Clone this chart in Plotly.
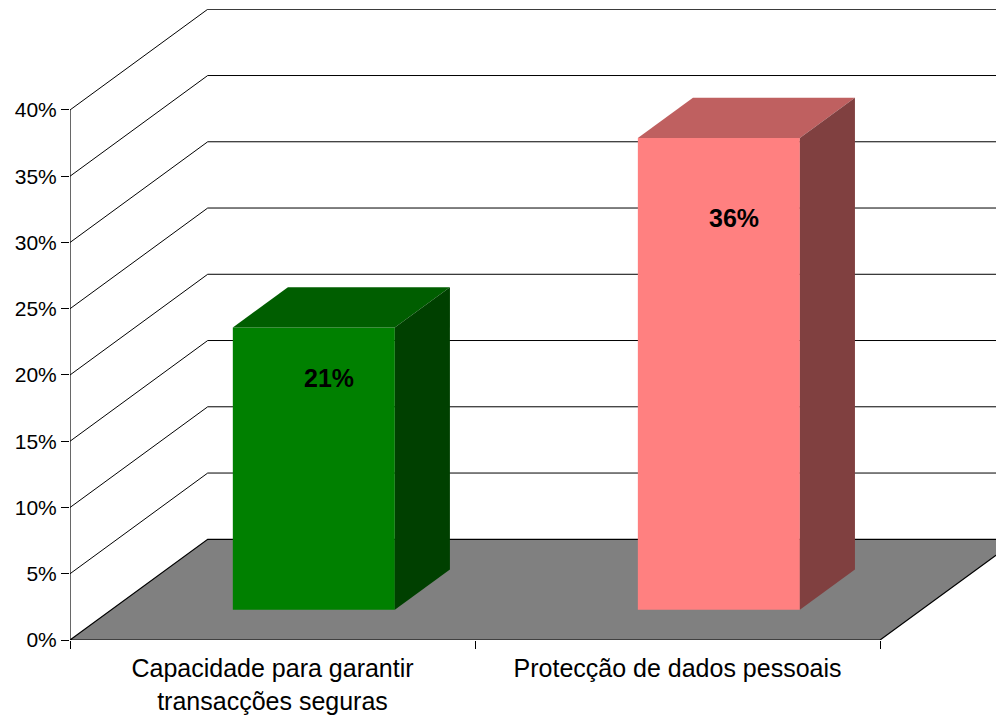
import plotly.graph_objs as go

# chart data
categories = ['Capacidade para garantir<br>transacções seguras', 'Protecção de dados pessoais']
values = [21.3, 35.6]
front_colors = ['#008000', '#FF8080']
top_colors = ['#005E00', '#BF6060']
side_colors = ['#004000', '#804040']
y_ticks = [0, 5, 10, 15, 20, 25, 30, 35, 40]

# oblique projection of the depth axis (x in category units, y in percent)
DX = 0.34
DY = 7.6
X_MAX = len(categories)
BAR_HALF = 0.2
D_FRONT, D_BACK = 0.3, 0.7


def proj(x, y, d):
    return x + d * DX, y + d * DY


def poly(points, color, line_color=None, width=0):
    xs = [proj(*p)[0] for p in points] + [proj(*points[0])[0]]
    ys = [proj(*p)[1] for p in points] + [proj(*points[0])[1]]
    return go.Scatter(x=xs, y=ys, mode='lines', fill='toself', fillcolor=color,
                      line=dict(color=line_color or color, width=width),
                      hoverinfo='skip', showlegend=False)


data = []

# walls: gridlines run along the left wall and across the back wall
for t in y_ticks[1:]:
    pts = [proj(0, t, 0), proj(0, t, 1), proj(X_MAX + 1, t, 1)]
    data.append(go.Scatter(x=[p[0] for p in pts], y=[p[1] for p in pts], mode='lines',
                           line=dict(color='black', width=1), hoverinfo='skip', showlegend=False))

# floor
data.append(poly([(0, 0, 0), (X_MAX, 0, 0), (X_MAX, 0, 1), (0, 0, 1)], '#808080', 'black', 1.2))

# vertical axis line
data.append(go.Scatter(x=[0, 0], y=[0, y_ticks[-1]], mode='lines',
                       line=dict(color='black', width=1.2), hoverinfo='skip', showlegend=False))

# 3d bars
annotations = []
for i, v in enumerate(values):
    c = i + 0.5
    x0, x1 = c - BAR_HALF, c + BAR_HALF
    data.append(poly([(x0, 0, D_FRONT), (x1, 0, D_FRONT), (x1, v, D_FRONT), (x0, v, D_FRONT)], front_colors[i]))
    data.append(poly([(x0, v, D_FRONT), (x1, v, D_FRONT), (x1, v, D_BACK), (x0, v, D_BACK)], top_colors[i]))
    data.append(poly([(x1, 0, D_FRONT), (x1, 0, D_BACK), (x1, v, D_BACK), (x1, v, D_FRONT)], side_colors[i]))
    lx, ly = proj(c, v, D_FRONT)
    annotations.append(dict(x=c + 0.14, y=0.84 * ly, text='<b>%d%%</b>' % round(v),
                            showarrow=False, font=dict(size=25, color='black')))

# the page body adds an 8px offset, margins below compensate for it
layout = go.Layout(
    width=996, height=713,
    margin=dict(l=62, r=0, t=1, b=81),
    paper_bgcolor='white', plot_bgcolor='white',
    font=dict(family='Liberation Sans, Arial', color='black'),
    showlegend=False,
    xaxis=dict(range=[0, 2.306], tickvals=[0.5, 1.5], ticktext=categories, ticks='',
               tickfont=dict(size=25), showgrid=False, zeroline=False, showline=False,
               automargin=False, ticklabelstandoff=11,
               minor=dict(tickvals=[0, 1, 2], ticks='outside', ticklen=8, tickcolor='black',
                          showgrid=False)),
    yaxis=dict(range=[0, 47.62], tickvals=y_ticks, ticktext=['%d%%' % t for t in y_ticks],
               ticks='outside', ticklen=8, tickcolor='black', tickfont=dict(size=21),
               showgrid=False, zeroline=False, showline=False, automargin=False),
    annotations=annotations,
)

fig = go.Figure(data=data, layout=layout)
fig.write_html('out.html')
